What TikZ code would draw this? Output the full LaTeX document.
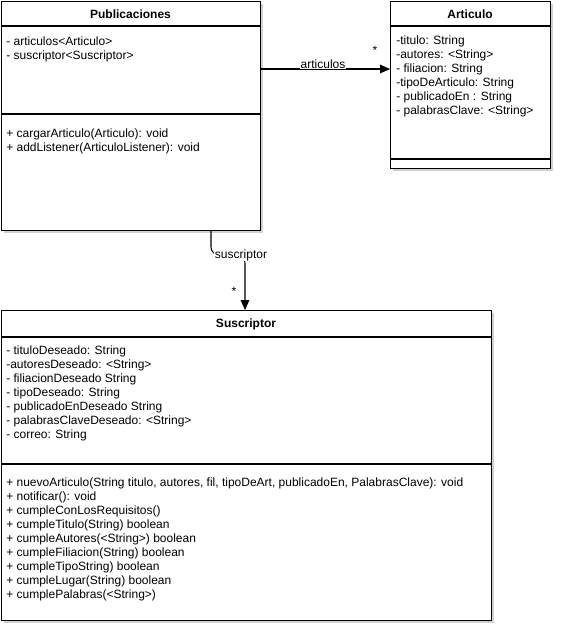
\documentclass[tikz,border=0pt]{standalone}
\usepackage{fontspec}
\setmainfont{Liberation Sans}
\usetikzlibrary{arrows.meta,shadows}
\begin{document}
\begin{tikzpicture}[x=0.75pt,y=-0.75pt,
  umlbox/.style={draw, line width=0.8pt, fill=white, inner sep=0pt, anchor=north west,
    drop shadow={shadow xshift=2pt, shadow yshift=-2pt, opacity=0.18, fill=black}},
  title/.style={font=\fontsize{9}{10.5}\selectfont\bfseries},
  members/.style={font=\fontsize{9}{10.5}\selectfont, align=left, anchor=north west, inner sep=0pt},
  sep/.style={line width=0.8pt},
  assoc/.style={line width=0.8pt, -{Triangle[length=7.5pt,width=6.5pt]}},
  lbl/.style={font=\fontsize{9}{10.5}\selectfont, fill=white, inner sep=0.5pt},
  mult/.style={font=\fontsize{9}{10.5}\selectfont, inner sep=0pt}]
\useasboundingbox (0,0) rectangle (562,635);

% class boxes
\node[umlbox, minimum width=194.25pt, minimum height=171.75pt] (pub) at (1,1) {};
\node[umlbox, minimum width=120pt, minimum height=125.25pt] (art) at (390,1) {};
\node[umlbox, minimum width=367.5pt, minimum height=232.5pt] (sus) at (1,310) {};

% compartment separators
\draw[sep] (1,26) -- (260,26);
\draw[sep] (1,114) -- (260,114);
\draw[sep] (390,26) -- (550,26);
\draw[sep] (390,159) -- (550,159);
\draw[sep] (1,337) -- (491,337);
\draw[sep] (1,464) -- (491,464);

% titles
\node[title] (pubt) at (130.5,14) {Publicaciones};
\node[title] (artt) at (470,14) {Articulo};
\node[title] (sust) at (246,324) {Suscriptor};

% Publicaciones members
\node[members] (puba) at (6,36.5) {- articulos<Articulo>\\- suscriptor<Suscriptor>};
\node[members] (pubm) at (6,128.5) {+ cargarArticulo(Articulo): void\\+ addListener(ArticuloListener): void};

% Articulo members
\node[members] (arta) at (396,36) {-titulo: String\\-autores: <String>\\- filiacion: String\\-tipoDeArticulo: String\\- publicadoEn : String\\- palabrasClave: <String>};

% Suscriptor members
\node[members] (susa) at (6,346) {- tituloDeseado: String\\-autoresDeseado: <String>\\- filiacionDeseado String\\- tipoDeseado: String\\- publicadoEnDeseado String\\- palabrasClaveDeseado: <String>\\- correo: String};
\node[members] (susm) at (6,477.5) {+ nuevoArticulo(String titulo, autores, fil, tipoDeArt, publicadoEn, PalabrasClave): void\\+ notificar(): void\\+ cumpleConLosRequisitos()\\+ cumpleTitulo(String) boolean\\+ cumpleAutores(<String>) boolean\\+ cumpleFiliacion(String) boolean\\+ cumpleTipoString) boolean\\+ cumpleLugar(String) boolean\\+ cumplePalabras(<String>)};

% associations
\coordinate (a1) at (pub.north east |- 0,69);
\draw[assoc] (a1) -- (a1 -| art.west);
\node[lbl] (alab) at (323,64) {articulos};
\node[mult] (amul) at (375,50) {*};

\coordinate (s1) at (pub.south west -| 211,0);
\coordinate (s2) at (245,255);
\draw[assoc, rounded corners=6pt] (s1) |- (s2) -- (s2 |- sus.north);
\node[lbl] (slab) at (241,255) {suscriptor};
\node[mult] (smul) at (234,291) {*};
\end{tikzpicture}
\end{document}
